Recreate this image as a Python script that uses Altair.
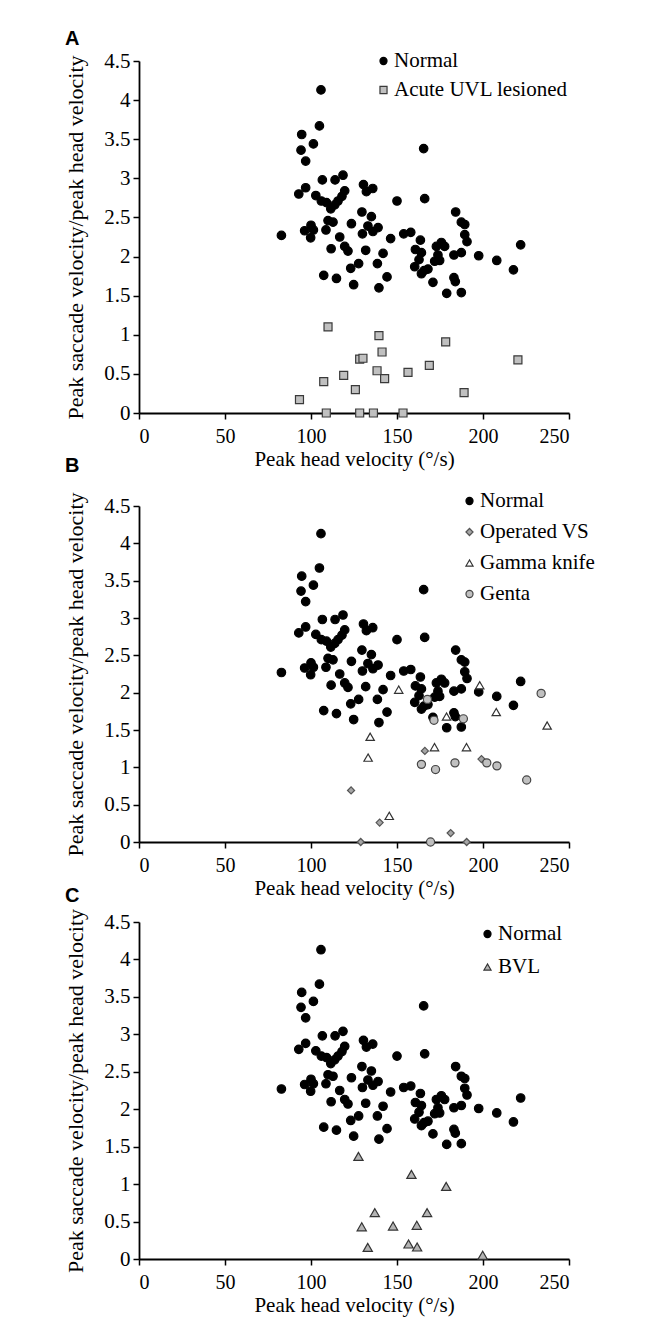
import altair as alt
import pandas as pd

# ---------------- data ----------------
normal_x = [105.8, 104.9, 94.6, 101.4, 94.2, 96.9, 165.5, 106.6, 114.0, 118.6,
            96.9, 92.9, 102.8, 106.0, 109.0, 111.5, 119.6, 118.0, 115.7, 113.8,
            130.5, 132.2, 135.9, 150.0, 166.1, 184.1, 129.6, 135.1, 109.9, 112.8,
            123.5, 187.4, 189.4, 82.8, 96.3, 100.0, 101.4, 99.8, 108.7, 116.7,
            129.9, 133.1, 136.0, 139.0, 146.3, 153.9, 158.0, 163.6, 189.4, 190.7,
            221.9, 111.7, 119.6, 121.5, 131.8, 141.9, 160.7, 164.2, 172.9, 175.8,
            177.7, 173.8, 183.1, 187.4, 197.5, 208.0, 217.7, 162.8, 171.9, 174.8,
            138.6, 127.7, 123.1, 160.3, 165.7, 168.0, 164.2, 107.4, 114.8, 144.2,
            170.9, 183.1, 183.9, 124.8, 139.5, 178.9, 187.4]
normal_y = [4.13, 3.67, 3.56, 3.44, 3.36, 3.22, 3.38, 2.98, 2.98, 3.04,
            2.88, 2.80, 2.78, 2.71, 2.69, 2.61, 2.84, 2.77, 2.71, 2.66,
            2.92, 2.83, 2.87, 2.71, 2.74, 2.57, 2.57, 2.51, 2.46, 2.44,
            2.42, 2.44, 2.41, 2.27, 2.33, 2.40, 2.34, 2.24, 2.34, 2.25,
            2.29, 2.39, 2.32, 2.37, 2.23, 2.29, 2.31, 2.21, 2.28, 2.19,
            2.15, 2.10, 2.13, 2.07, 2.08, 2.04, 2.09, 2.05, 2.13, 2.18,
            2.13, 2.02, 2.02, 2.05, 2.01, 1.95, 1.83, 1.96, 1.94, 1.95,
            1.91, 1.91, 1.85, 1.87, 1.82, 1.84, 1.78, 1.76, 1.72, 1.74,
            1.67, 1.73, 1.68, 1.64, 1.60, 1.53, 1.54]

uvl_x = [109.9, 139.5, 141.3, 178.3, 128.3, 130.2, 220.3, 168.8, 138.4, 142.8,
         156.4, 119.0, 107.4, 125.8, 93.3, 189.0, 108.9, 128.3, 136.3, 153.5]
uvl_y = [1.10, 0.99, 0.78, 0.91, 0.69, 0.70, 0.68, 0.61, 0.54, 0.44,
         0.52, 0.48, 0.40, 0.30, 0.17, 0.26, 0.0, 0.0, 0.0, 0.0]

ovs_x = [123.3, 139.9, 166.2, 199.1, 181.2, 128.9, 190.5]
ovs_y = [0.69, 0.26, 1.22, 1.11, 0.12, 0.0, 0.0]

gk_x = [151.0, 198.1, 207.7, 178.8, 237.3, 134.4, 133.2, 171.8, 190.4, 145.5]
gk_y = [2.04, 2.10, 1.74, 1.68, 1.56, 1.41, 1.13, 1.27, 1.27, 0.35]

genta_x = [233.8, 167.7, 171.5, 188.6, 164.2, 172.4, 183.7, 202.2, 208.1, 225.4, 169.5]
genta_y = [1.99, 1.91, 1.63, 1.65, 1.04, 0.97, 1.06, 1.06, 1.02, 0.83, 0.0]

bvl_x = [127.6, 158.4, 178.6, 137.1, 167.5, 129.5, 147.7, 161.5, 133.0, 156.7, 161.7, 199.8]
bvl_y = [1.37, 1.13, 0.97, 0.62, 0.62, 0.43, 0.44, 0.45, 0.155, 0.20, 0.16, 0.05]

x_ticks = [0, 50, 100, 150, 200, 250]
y_ticks = [0, 0.5, 1, 1.5, 2, 2.5, 3, 3.5, 4, 4.5]

SERIF = "Liberation Serif"


def panel(groups, height, label, lx, ly, row_pad, title_dy):
    frames = []
    for name, xs, ys, shape, fill, stroke, size in groups:
        frames.append(pd.DataFrame({"x": xs, "y": ys, "group": name, "sz": size}))
    df = pd.concat(frames, ignore_index=True)
    names = [g[0] for g in groups]
    leg = alt.Legend(title=None, orient="none", legendX=lx, legendY=ly,
                     rowPadding=row_pad, labelFont=SERIF, labelFontSize=21,
                     labelColor="black", symbolSize=50, symbolStrokeWidth=1.2,
                     labelOffset=0, labelLimit=300)
    return alt.Chart(df).mark_point(opacity=1, strokeWidth=1.2).encode(
        x=alt.X("x:Q", scale=alt.Scale(domain=[0, 250], nice=False),
                axis=alt.Axis(values=x_ticks, title="Peak head velocity (°/s)",
                              labelPadding=7, titlePadding=2, labelFontSize=20,
                              titleFontSize=21)),
        y=alt.Y("y:Q", scale=alt.Scale(domain=[0, 4.5], nice=False),
                axis=alt.Axis(values=y_ticks, format="~g",
                              title="Peak saccade velocity/peak head velocity",
                              labelPadding=3, titlePadding=16)),
        shape=alt.Shape("group:N", scale=alt.Scale(domain=names, range=[g[3] for g in groups]), legend=leg),
        fill=alt.Fill("group:N", scale=alt.Scale(domain=names, range=[g[4] for g in groups]), legend=leg),
        stroke=alt.Stroke("group:N", scale=alt.Scale(domain=names, range=[g[5] for g in groups]), legend=leg),
        size=alt.Size("sz:Q", scale=None, legend=None),
    ).properties(
        width=430, height=height,
        title=alt.TitleParams(label, anchor="start", frame="group", dx=-74, dy=title_dy,
                              font="Liberation Sans", fontSize=20, fontWeight="bold",
                              color="black"),
    )


normal = ("Normal", normal_x, normal_y, "circle", "black", "black", 72)

A = panel([normal,
           ("Acute UVL lesioned", uvl_x, uvl_y, "square", "#c0c0c0", "#3a3a3a", 64)],
          352, "A", 234, -10.5, 7, 3)
B = panel([normal,
           ("Operated VS", ovs_x, ovs_y, "diamond", "#a6a6a6", "#555555", 50),
           ("Gamma knife", gk_x, gk_y, "triangle-up", "white", "#333333", 70),
           ("Genta", genta_x, genta_y, "circle", "#c0c0c0", "#444444", 66)],
          336, "B", 320, -15.5, 9, -11)
C = panel([normal,
           ("BVL", bvl_x, bvl_y, "triangle-up", "#b4b4b4", "#333333", 85)],
          337, "C", 338, 1.5, 11, 2)

indep = dict(shape="independent", fill="independent", stroke="independent")

inner = alt.vconcat(B, C, spacing=80, bounds="flush").resolve_scale(**indep).resolve_legend(**indep)

chart = alt.vconcat(
    A, inner, spacing=93, bounds="flush",
).resolve_scale(**indep).resolve_legend(**indep).properties(
    padding={"left": 56, "top": 21, "right": 5, "bottom": 5}
).configure_view(stroke=None).configure_axis(
    grid=False, domainColor="black", domainWidth=1.8, tickColor="black",
    tickWidth=1.5, tickSize=6, labelFont=SERIF, labelFontSize=21,
    labelColor="black", titleFont=SERIF, titleFontSize=22,
    titleFontWeight="normal", titleColor="black",
)

chart.save("out.html", embed_options={"renderer": "svg", "actions": False})
